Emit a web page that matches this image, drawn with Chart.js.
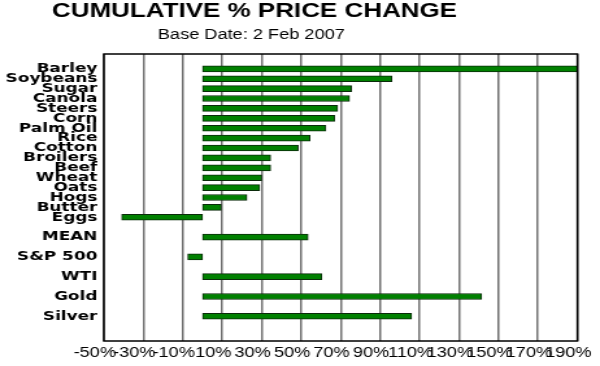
<!DOCTYPE html>
<html>
<head>
<title>Cumulative % Price Change</title>
<script src="https://cdn.jsdelivr.net/npm/chart.js"></script>
<style>
    html, body { margin: 0; padding: 0; background: #fff; overflow: hidden; }
    /* the original picture is stretched sideways, so draw it narrow and widen the canvas */
    #priceChart { display: block; transform: scaleX(1.2987); transform-origin: 0 0; }
</style>
</head>
<body>
<canvas id="priceChart" width="462" height="366"></canvas>
<script>
var commodityNames = ['Barley', 'Soybeans', 'Sugar', 'Canola', 'Steers', 'Corn', 'Palm Oil', 'Rice',
    'Cotton', 'Broilers', 'Beef', 'Wheat', 'Oats', 'Hogs', 'Butter', 'Eggs'];
var commodityChanges = [190, 96, 75.5, 74.5, 68.5, 67, 62.5, 54.5, 48.5, 34.5, 34.5, 30, 29, 22.5, 9.5, -41];
var benchmarkNames = ['MEAN', 'S&P 500', 'WTI', 'Gold', 'Silver'];
var benchmarkChanges = [53.5, -7.5, 60.5, 141.5, 106];
var xTicks = [-50, -30, -10, 10, 30, 50, 70, 90, 110, 130, 150, 170, 190];

// blank row on top, a blank row before each benchmark, two blank rows at the bottom
var labels = [''];
var values = [null];
for (var i = 0; i < commodityNames.length; i++) {
    labels.push(commodityNames[i]);
    values.push(commodityChanges[i]);
}
for (var j = 0; j < benchmarkNames.length; j++) {
    labels.push('', benchmarkNames[j]);
    values.push(null, benchmarkChanges[j]);
}
labels.push('', '');
values.push(null, null);

var font = '"Liberation Sans", Arial, sans-serif';

// box round the plot plus the two heading lines
var frame = {
    id: 'frame',
    afterDraw: function(chart) {
        var ctx = chart.ctx, a = chart.chartArea;
        ctx.save();
        ctx.strokeStyle = '#000';
        ctx.lineWidth = 1.5;
        ctx.strokeRect(a.left, a.top, a.right - a.left, a.bottom - a.top);
        ctx.fillStyle = '#000';
        ctx.textAlign = 'center';
        ctx.textBaseline = 'alphabetic';
        ctx.font = 'bold 20px ' + font;
        ctx.fillText('CUMULATIVE % PRICE CHANGE', 196, 17);
        ctx.font = '14px ' + font;
        ctx.fillText('Base Date: 2 Feb 2007', 193.5, 38.5);
        ctx.restore();
    }
};

new Chart(document.getElementById('priceChart'), {
    type: 'bar',
    data: {
        labels: labels,
        datasets: [{
            data: values,
            backgroundColor: '#008000',
            borderColor: '#0b2b0b',
            borderWidth: 1,
            borderSkipped: false,
            barThickness: 6
        }]
    },
    options: {
        indexAxis: 'y',
        responsive: false,
        animation: false,
        layout: { padding: { top: 54, right: 17.4, bottom: 0, left: 0 } },
        plugins: {
            legend: { display: false },
            tooltip: { enabled: false }
        },
        scales: {
            x: {
                type: 'linear',
                min: -50,
                max: 190,
                afterBuildTicks: function(s) {
                    s.ticks = xTicks.map(function(v) { return { value: v }; });
                },
                afterFit: function(s) {
                    s.height = 25;
                    s.paddingLeft = 0;
                    s.paddingRight = 0;
                },
                grid: { color: '#707070', lineWidth: 1.5, drawTicks: false },
                border: { display: false },
                ticks: {
                    autoSkip: false,
                    maxRotation: 0,
                    padding: 4,
                    labelOffset: -7,
                    color: '#000',
                    font: { family: font, size: 14 },
                    callback: function(v) { return v + '%'; }
                }
            },
            y: {
                afterFit: function(s) { s.width = 80; },
                grid: { display: false, drawTicks: false },
                border: { display: false },
                ticks: {
                    autoSkip: false,
                    padding: 5,
                    color: '#000',
                    font: { family: '"DejaVu Sans", sans-serif', weight: 'bold', size: 13 }
                }
            }
        }
    },
    plugins: [frame]
});
</script>
</body>
</html>
